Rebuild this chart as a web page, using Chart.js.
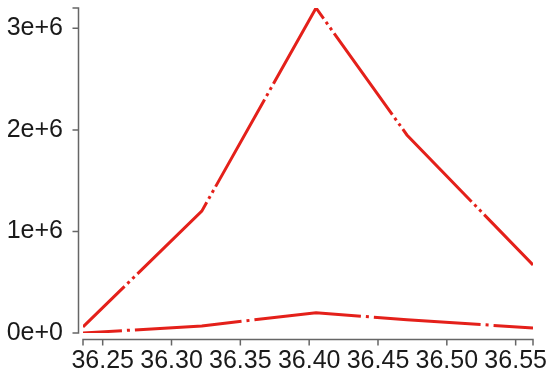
<!DOCTYPE html>
<html>
<head>
<meta charset="utf-8">
<script src="https://cdn.jsdelivr.net/npm/chart.js@4.4.1/dist/chart.umd.min.js"></script>
<style>
  html, body { margin: 0; padding: 0; background: #fff; }
  #wrap { width: 548px; height: 376px; }
</style>
</head>
<body>
<div id="wrap"><canvas id="chart"></canvas></div>
<script>
// x positions of the samples
const xValues = [36.2357, 36.322, 36.405, 36.471, 36.5626];
// upper and lower traces
const upperValues = [60000, 1200000, 3200000, 1950000, 670000];
const lowerValues = [0, 70000, 200000, 130000, 50000];
// tick values
const xTicks = [36.25, 36.30, 36.35, 36.40, 36.45, 36.50, 36.55];
const yTicks = [0, 1000000, 2000000, 3000000];

const lineColor = 'rgb(228, 32, 26)';
const axisColor = '#666';
const tickFont = { family: 'Liberation Sans, Arial, sans-serif', size: 25 };

const toPoints = (ys) => ys.map((v, i) => ({ x: xValues[i], y: v }));

// d3-like detached axes: domain line with end ticks, plus tick marks
const detachedAxes = {
    id: 'detachedAxes',
    afterDraw(chart) {
        const { ctx, scales: { x, y } } = chart;
        const ax = Math.round(x.left) - 4.5;
        const ay = Math.round(y.bottom) + 6.5;
        const yTop = y.getPixelForValue(y.max);
        const yBot = y.getPixelForValue(y.min);
        const xL = x.getPixelForValue(x.min);
        const xR = x.getPixelForValue(x.max);

        ctx.save();
        ctx.strokeStyle = axisColor;
        ctx.lineWidth = 1.5;

        // y axis
        ctx.beginPath();
        ctx.moveTo(ax - 6, yTop);
        ctx.lineTo(ax, yTop);
        ctx.lineTo(ax, yBot);
        ctx.lineTo(ax - 6, yBot);
        y.ticks.forEach(t => {
            const py = y.getPixelForValue(t.value);
            ctx.moveTo(ax - 6, py);
            ctx.lineTo(ax, py);
        });
        ctx.stroke();

        // x axis
        ctx.beginPath();
        ctx.moveTo(xL, ay + 6);
        ctx.lineTo(xL, ay);
        ctx.lineTo(xR, ay);
        ctx.lineTo(xR, ay + 6);
        x.ticks.forEach(t => {
            const px = x.getPixelForValue(t.value);
            ctx.moveTo(px, ay);
            ctx.lineTo(px, ay + 6);
        });
        ctx.stroke();
        ctx.restore();
    }
};

new Chart(document.getElementById('chart'), {
    type: 'line',
    data: {
        datasets: [
            {
                data: toPoints(upperValues),
                borderColor: lineColor,
                borderWidth: 3,
                borderDash: [100, 4, 3, 4, 3, 4],
                borderDashOffset: 42,
                pointRadius: 0,
                tension: 0,
                fill: false
            },
            {
                data: toPoints(lowerValues),
                borderColor: lineColor,
                borderWidth: 3,
                borderDash: [107, 5, 3, 5],
                borderDashOffset: 68,
                pointRadius: 0,
                tension: 0,
                fill: false
            }
        ]
    },
    options: {
        responsive: true,
        maintainAspectRatio: false,
        animation: false,
        events: [],
        layout: { padding: { top: 8, right: 15, bottom: 0, left: 0 } },
        plugins: {
            legend: { display: false },
            tooltip: { enabled: false }
        },
        scales: {
            x: {
                type: 'linear',
                bounds: 'data',
                min: xValues[0],
                max: xValues[xValues.length - 1],
                grid: { display: false, drawTicks: false },
                border: { display: false },
                afterBuildTicks(scale) {
                    scale.ticks = xTicks.map(v => ({ value: v }));
                },
                ticks: {
                    maxRotation: 0,
                    autoSkip: false,
                    padding: 13,
                    color: '#1a1a1a',
                    font: tickFont,
                    callback: v => Number(v).toFixed(2)
                },
                afterFit(scale) {
                    scale.height = 43;
                    scale.paddingLeft = 0;
                    scale.paddingRight = 0;
                }
            },
            y: {
                bounds: 'data',
                min: 0,
                max: Math.max(...upperValues),
                grid: { display: false, drawTicks: false },
                border: { display: false },
                afterBuildTicks(scale) {
                    scale.ticks = yTicks.map(v => ({ value: v }));
                },
                ticks: {
                    autoSkip: false,
                    padding: 20,
                    color: '#1a1a1a',
                    font: tickFont,
                    callback: v => Number(v).toExponential(0)
                },
                afterFit(scale) {
                    scale.width = 83;
                    scale.paddingTop = 0;
                    scale.paddingBottom = 0;
                }
            }
        }
    },
    plugins: [detachedAxes]
});
</script>
</body>
</html>
